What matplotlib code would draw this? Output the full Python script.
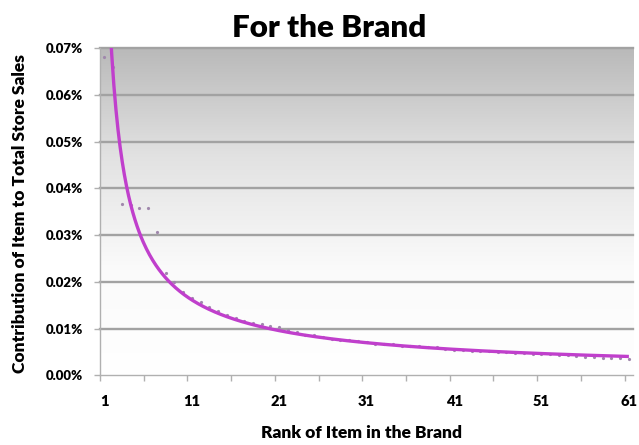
import numpy as np
import matplotlib
matplotlib.use("Agg")
import matplotlib.pyplot as plt
from matplotlib.colors import LinearSegmentedColormap
from matplotlib.ticker import FixedLocator, FuncFormatter

# ---------------- data ----------------
ranks = list(range(1, 62))
# contribution of each item to total store sales, in percent
contribution = [
    0.0682, 0.0660, 0.0367, 0.0364, 0.0358, 0.0358, 0.0307, 0.0219, 0.0199, 0.0178,
    0.0166, 0.0156, 0.0146, 0.0137, 0.0129, 0.0122, 0.0117, 0.0113, 0.0109, 0.0106,
    0.0104, 0.0098, 0.0093, 0.0087, 0.0086, 0.0081, 0.0078, 0.0075, 0.0075, 0.0073,
    0.0071, 0.0068, 0.0066, 0.0066, 0.0063, 0.0063, 0.0062, 0.0061, 0.0060, 0.0057,
    0.0055, 0.0054, 0.0053, 0.0052, 0.0051, 0.0050, 0.0049, 0.0048, 0.0047, 0.0046,
    0.0046, 0.0045, 0.0044, 0.0043, 0.0042, 0.0040, 0.0039, 0.0038, 0.0037, 0.0036,
    0.0035,
]
x_labels = [1, 11, 21, 31, 41, 51, 61]
y_ticks = [0.00, 0.01, 0.02, 0.03, 0.04, 0.05, 0.06, 0.07]

title = "For the Brand"
xlabel = "Rank of Item in the Brand"
ylabel = "Contribution of Item to Total Store Sales"

FONT = ["Lato", "DejaVu Sans"]
plt.rcParams["font.family"] = FONT

x = np.array(ranks, dtype=float)
y = np.array(contribution, dtype=float)

# power trendline (least squares in log-log space, as a spreadsheet does)
b, ln_a = np.polyfit(np.log(x), np.log(y), 1)
xs = np.linspace(x.min(), x.max(), 500)
ys = np.exp(ln_a) * xs ** b

fig = plt.figure(figsize=(6.39, 4.45), dpi=100)
ax = fig.add_axes([0.1565, 0.1566, 0.8345, 0.7349])

# gradient background (grey at top fading to white)
cmap = LinearSegmentedColormap.from_list("bg", ["#ffffff", "#fafafa", "#e2e2e2", "#b9b9b9"])
grad = np.linspace(0, 1, 256).reshape(-1, 1)
ax.imshow(grad, extent=[0, 1, 0, 1], transform=ax.transAxes, cmap=cmap,
          origin="lower", aspect="auto", zorder=0, interpolation="bilinear")

ax.set_xlim(0.5, 61.5)
ax.set_ylim(0, 0.07)

# gridlines
for v in y_ticks[1:]:
    ax.axhline(v, color="#a2a2a2", lw=1.7, zorder=1, clip_on=False)

ax.plot(x, y, linestyle="none", marker="o", markersize=2.3,
        color="#a088ac", markeredgewidth=0, zorder=2)
ax.plot(xs, ys, color="#c03fcc", lw=2.4, zorder=3, solid_capstyle="butt")

# axes styling
for s in ["top", "right"]:
    ax.spines[s].set_visible(False)
for s in ["left", "bottom"]:
    ax.spines[s].set_color("#b0b0b0")
    ax.spines[s].set_linewidth(1.0)

ax.yaxis.set_major_locator(FixedLocator(y_ticks))
ax.yaxis.set_major_formatter(FuncFormatter(lambda v, p: f"{v:.2f}%"))
ax.tick_params(axis="y", length=4, width=1, color="#b0b0b0", pad=8,
               labelsize=9.5)

ax.xaxis.set_major_locator(FixedLocator(x_labels))
ax.xaxis.set_major_formatter(FuncFormatter(lambda v, p: f"{int(round(v))}"))
ax.xaxis.set_minor_locator(FixedLocator(np.arange(0.5, 61.0, 5)))
ax.tick_params(axis="x", which="major", length=0, pad=14, labelsize=10.5)
ax.tick_params(axis="x", which="minor", length=4, width=1, color="#b0b0b0")

for lab in ax.get_xticklabels() + ax.get_yticklabels():
    lab.set_fontweight("heavy")

fig.text(0.515, 0.938, title, ha="center", va="center", fontsize=22.5,
         fontweight="heavy")
fig.text(0.566, 0.027, xlabel, ha="center", va="center", fontsize=12.5,
         fontweight="heavy")
fig.text(0.031, 0.52, ylabel, ha="center", va="center", rotation=90,
         fontsize=12.5, fontweight="heavy")

fig.savefig("out.png", dpi=100)
